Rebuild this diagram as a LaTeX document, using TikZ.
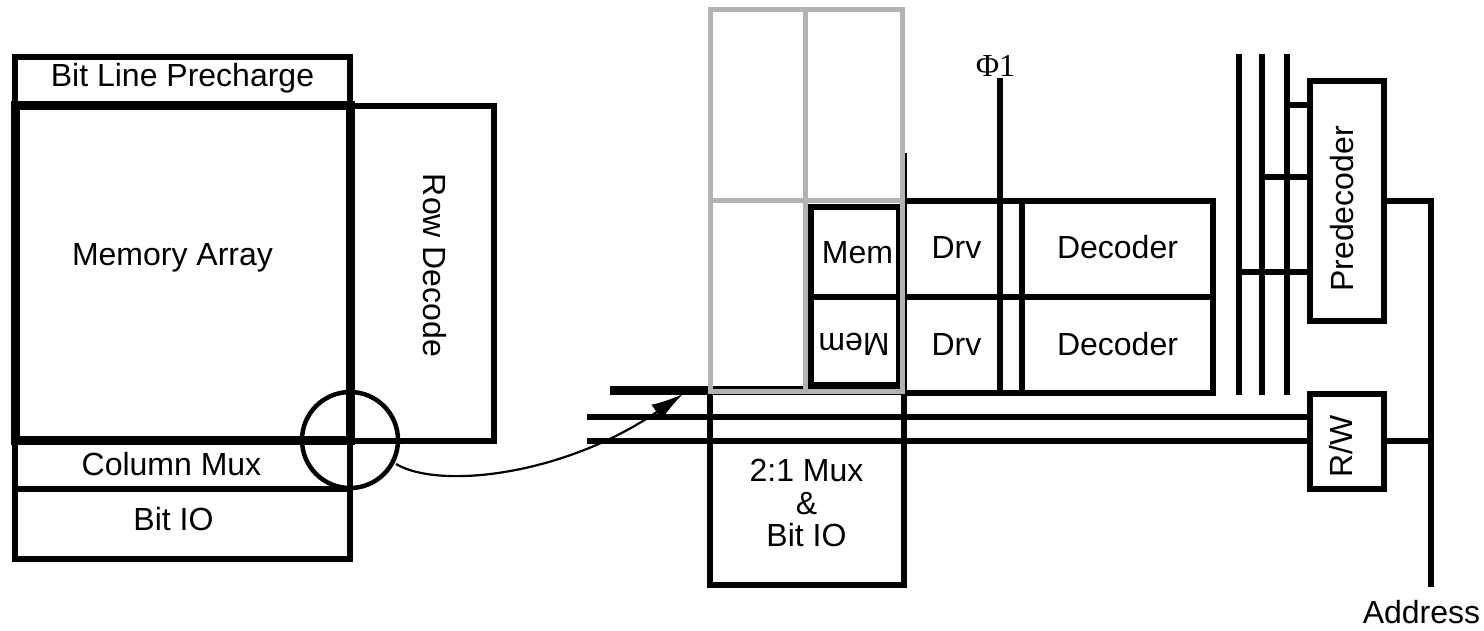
\documentclass[tikz,border=0pt]{standalone}
\usepackage{fontspec}
\setmainfont{Liberation Sans}
\newfontfamily\phifont{Liberation Serif}
\usetikzlibrary{arrows.meta}
\definecolor{gridgrey}{RGB}{178,178,178}
\begin{document}
\begin{tikzpicture}[x=1pt,y=-1pt,
  blk/.style={draw=black, line width=6pt, inner sep=0pt, outer sep=0pt},
  thickblk/.style={draw=black, line width=9pt, inner sep=0pt, outer sep=0pt},
  wire/.style={draw=black, line width=6pt},
  thickwire/.style={draw=black, line width=9pt},
  greyln/.style={draw=gridgrey, line width=5.5pt},
  lbl/.style={font=\fontsize{32}{32.5}\selectfont, inner sep=0pt, outer sep=0pt, anchor=base},
  zoomring/.style={draw=black, circle, line width=4.5pt, inner sep=0pt, outer sep=0pt},
  pointer/.style={draw=black, line width=2.2pt, -{Latex[length=32pt,width=18pt]}}
]
\useasboundingbox (0,0) rectangle (1484,630);

% ---------- left: whole memory ----------
\node[blk, minimum width=335pt, minimum height=48pt] (prech) at (182.5,81) {};
\node[blk, minimum width=143.5pt, minimum height=335pt] (rowdec) at (421.75,273) {};
\node[blk, minimum width=335pt, minimum height=48.5pt] (colmux) at (182.5,464.25) {};
\node[blk, minimum width=335pt, minimum height=70.5pt] (bitio) at (182.5,523.75) {};
\node[thickblk, minimum width=335pt, minimum height=335pt] (memarr) at (182.5,272.5) {};

\node[lbl] (tprech) at (182.5,86.5) {Bit Line Precharge};
\node[lbl] (tmemarr) at (172.5,265.5) {Memory Array};
\node[lbl, rotate=-90] (trowdec) at (423,265.5) {Row Decode};
\node[lbl] (tcolmux) at (171.5,475.6) {Column Mux};
\node[lbl] (tbitio) at (173.5,530.7) {Bit IO};

\node[zoomring, minimum size=96pt] (ring) at (350,440) {};
\coordinate (cstart) at (396,464);
\coordinate (ctip) at (683,394);
\draw[pointer] (cstart) .. controls (440,490) and (565,475) .. (ctip);

% ---------- center: detail ----------
\node[blk, minimum width=194pt, minimum height=193pt] (mux) at (807,488) {};
\coordinate (muxtop) at (904,153);
\draw[wire] (mux.north east) -- (muxtop);
\coordinate (thickL) at (610,390);
\coordinate (thickR) at (904,390);
\draw[thickwire] (thickL) -- (thickR);

\node[blk, minimum width=95.5pt, minimum height=96pt] (drv1) at (951.75,249) {};
\node[blk, minimum width=95.5pt, minimum height=95.5pt] (drv2) at (951.75,344.75) {};
\node[blk, minimum width=191.5pt, minimum height=96pt] (dec1) at (1117.25,249) {};
\node[blk, minimum width=191.5pt, minimum height=95.5pt] (dec2) at (1117.25,344.75) {};
\draw[wire] (drv1.north east) -- (dec1.north west);
\draw[wire] (drv2.north east) -- (dec2.north west);
\draw[wire] (drv2.south east) -- (dec2.south west);
\coordinate (phitop) at (999.5,78);
\draw[wire] (phitop) -- (phitop |- drv2.south);

% grey cell grid
\node[greyln, minimum width=95pt, minimum height=191pt, inner sep=0pt, outer sep=0pt] (g11) at (758,105) {};
\node[greyln, minimum width=97pt, minimum height=191pt, inner sep=0pt, outer sep=0pt] (g12) at (854,105) {};
\node[greyln, minimum width=95pt, minimum height=191pt, inner sep=0pt, outer sep=0pt] (g21) at (758,296) {};

\node[blk, minimum width=87.5pt, minimum height=90pt] (memA) at (854.75,251.5) {};
\node[blk, minimum width=87.5pt, minimum height=88.5pt] (memB) at (854.75,340.75) {};
\node[greyln, minimum width=97pt, minimum height=191pt, inner sep=0pt, outer sep=0pt, fill=none] (g22) at (854,296) {};
\draw[blk] (memA.north west) rectangle (memB.south east);
\draw[blk] (memA.south west) -- (memA.south east);
\draw[greyln] (g22.north east) -- (g22.south east);
\draw[greyln] (g21.south west) -- (g22.south east);

\node[lbl] (tmemA) at (857.5,263) {Mem};
\node[lbl, rotate=180] (tmemB) at (854,333) {Mem};
\node[lbl] (tdrv1) at (956.5,258.3) {Drv};
\node[lbl] (tdrv2) at (956.5,355) {Drv};
\node[lbl] (tdec1) at (1117.5,258.3) {Decoder};
\node[lbl] (tdec2) at (1117.5,355) {Decoder};
\node[lbl, font=\fontsize{32}{32.5}\selectfont\phifont] (tphi) at (995.5,76.7) {Φ1};
\node[lbl, anchor=center, align=center] (tmux) at (806.5,503) {2:1 Mux\\\&\\Bit IO};

% ---------- right: predecoder / R/W ----------
\node[blk, minimum width=73.5pt, minimum height=239.5pt] (pred) at (1346.75,200.75) {};
\node[blk, minimum width=73.5pt, minimum height=95.5pt] (rw) at (1346.75,441.25) {};
\node[lbl, rotate=90] (tpred) at (1353,209) {Predecoder};
\node[lbl, rotate=90] (trw) at (1352,446) {R/W};

\coordinate (v1t) at (1239,54);  \coordinate (v1b) at (1239,395);
\coordinate (v2t) at (1262,54);  \coordinate (v2b) at (1262,395);
\coordinate (v3t) at (1287,54);  \coordinate (v3b) at (1287,395);
\draw[wire] (v1t) -- (v1b);
\draw[wire] (v2t) -- (v2b);
\draw[wire] (v3t) -- (v3b);
\coordinate (p3) at (1287,104.5);
\coordinate (p2) at (1262,176.5);
\coordinate (p1) at (1239,272);
\draw[wire] (p3) -- (p3 -| pred.west);
\draw[wire] (p2) -- (p2 -| pred.west);
\draw[wire] (p1) -- (p1 -| pred.west);

\coordinate (addrT) at (1430.5,201);
\coordinate (addrB) at (1430.5,587);
\draw[wire] (pred.east |- addrT) -- (addrT) -- (addrB);

\coordinate (busA) at (587,416.5);
\coordinate (busB) at (587,440.5);
\draw[wire] (busA) -- (busA -| rw.west);
\draw[wire] (busB) -- (busB -| rw.west);
\draw[wire] (rw.east |- busB) -- (busB -| addrB);

\node[lbl] (taddr) at (1421.5,623) {Address};
\end{tikzpicture}
\end{document}
